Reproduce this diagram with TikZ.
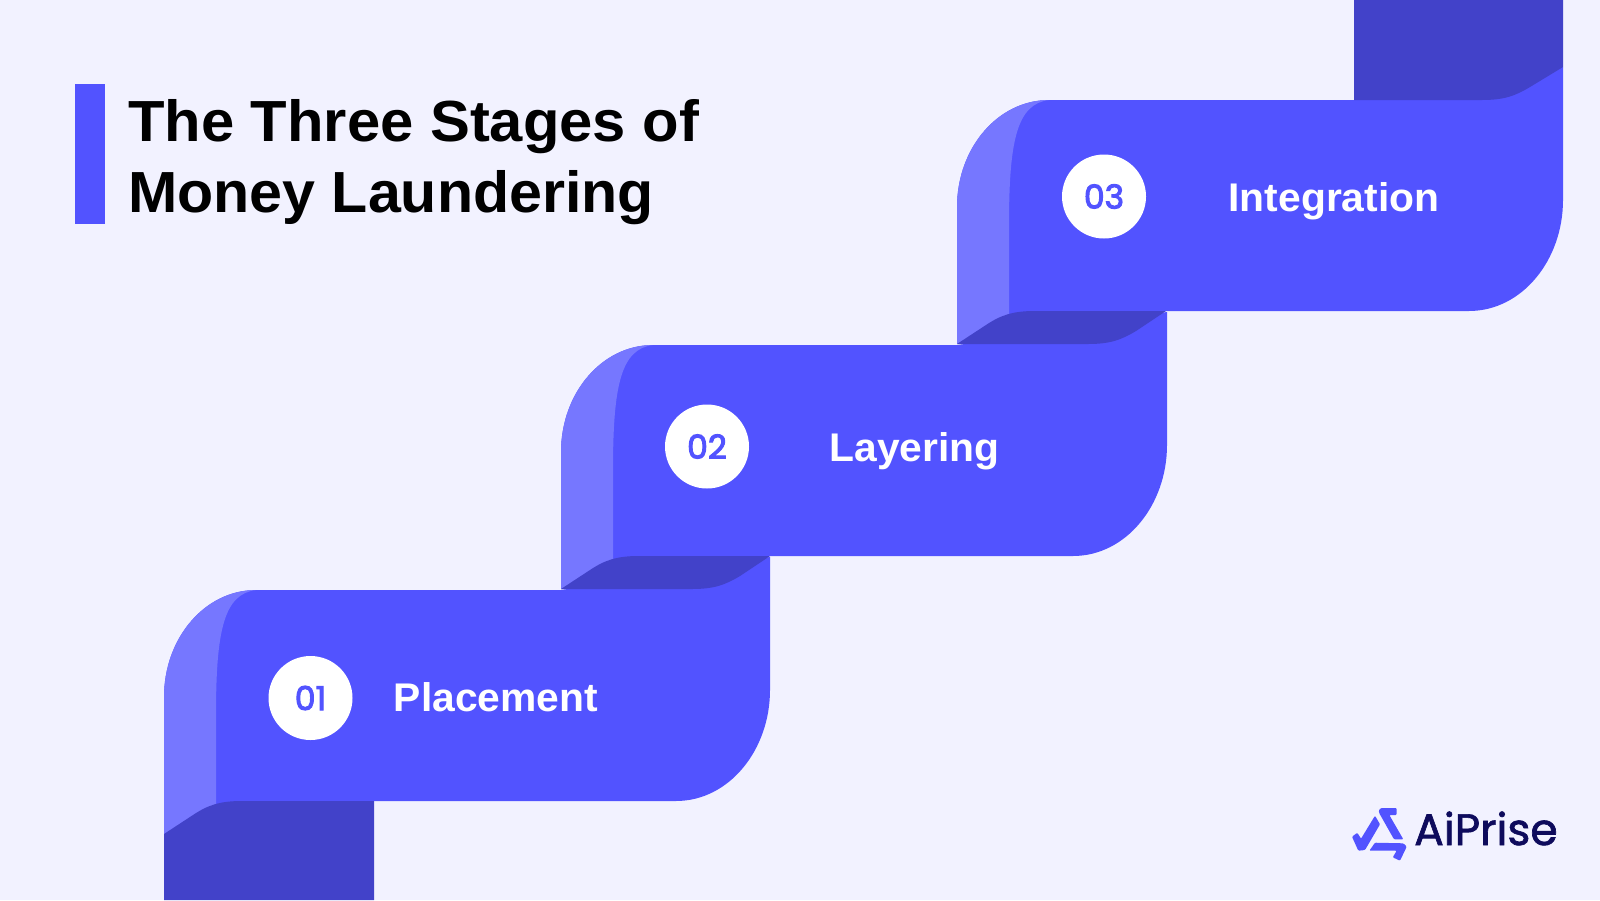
\documentclass[tikz,border=0pt]{standalone}
\usepackage{fontspec}
\setmainfont{Liberation Sans}
\newfontfamily\semi[FakeStretch=1.02]{Liberation Sans Bold}
\newfontfamily\semiwide[FakeStretch=1.03]{Liberation Sans Bold}
\newfontfamily\popsemi[FakeBold=3]{Poppins}
\newfontfamily\popmed[FakeBold=1.5]{Poppins}
\definecolor{bg}{HTML}{F2F2FF}
\definecolor{band}{HTML}{5253FF}
\definecolor{bandlight}{HTML}{7677FF}
\definecolor{banddark}{HTML}{4242C9}
\definecolor{navy}{HTML}{0E0B5C}
\tikzset{
  mainshape/.pic={
    \fill[band] (0,107) .. controls (0,48) and (41,0) .. (92,0) -- (397,0) -- (606,-33) -- (606,100)
      .. controls (606,160) and (565,211) .. (512,211) -- (90,211) -- (52,222) -- (0,211) -- cycle;
    \fill[bandlight] (0,244) -- (0,107) .. controls (0,48) and (41,0) .. (92,0)
      .. controls (60,4) and (52,40) .. (52,125) -- (52,244) -- cycle;
  },
  lowerfold/.pic={
    \fill[banddark] (0,244) -- (29,225) .. controls (44,215) and (56,211) .. (78,211) -- (209,211)
      -- (179,231) .. controls (164,240) and (153,244) .. (131,244) -- cycle;
  },
  numdisc/.style={circle,fill=white,minimum size=84pt,inner sep=0pt,text=band,font=\popsemi\fontsize{33}{33}\selectfont},
  steplabel/.style={anchor=base,text=white,inner sep=0pt,font=\semi\fontsize{40}{40}\selectfont},
  titleline/.style={anchor=base west,inner sep=0pt,text=black,font=\semi\fontsize{58}{58}\selectfont},
}
\begin{document}
\begin{tikzpicture}[x=1pt,y=-1pt]
\fill[bg] (0,0) rectangle (1600,900);
\useasboundingbox (0,0) rectangle (1600,900);
% accent bar
\fill[band] (75,84) rectangle (105,224);
\node[titleline] (title1) at (128,141.5) {\semiwide The Three Stages of};
\node[titleline] (title2) at (128,212) {Money Laundering};
% ribbon: top-right end first
\pic at (957,100) {mainshape};
\fill[banddark] (1354,0) -- (1563,0) -- (1563,67) -- (1530,87) .. controls (1515,96) and (1504,100) .. (1482,100) -- (1354,100) -- cycle;
\pic at (561,345) {mainshape};
\pic at (957,100) {lowerfold};
\pic at (164,590) {mainshape};
\pic at (561,345) {lowerfold};
\fill[banddark] (164,834) -- (193,815) .. controls (208,805) and (220,801) .. (242,801) -- (374,801) -- (374,900) -- (164,900) -- cycle;
% numbers and labels
\node[numdisc] (n1) at (310.5,698) {01};
\node[numdisc] (n2) at (707,446.5) {02};
\node[numdisc] (n3) at (1104,196.5) {03};
\node[steplabel] (l1) at (496,711) {Placement};
\node[steplabel] (l2) at (914.5,461) {Layering};
\node[steplabel] (l3) at (1334,211) {Integration};
% logo
\fill[band,rounded corners=1pt] (1352,836.7) -- (1357.3,832.7) -- (1361,838.7) -- (1375,815.7) -- (1380,824.3) -- (1365,850) -- (1358.3,850.7) -- cycle;
\fill[band,rounded corners=1pt] (1378.7,810.7) -- (1380.7,808) -- (1396.7,808) -- (1396.7,815) -- (1389.3,815) -- (1403.3,839.3) -- (1394,839.3) -- (1379.3,813.3) -- cycle;
\fill[band,rounded corners=1pt] (1369.3,850.7) -- (1375,842.7) -- (1403.3,843.3) -- (1406.7,846.7) -- (1400,860.7) -- (1392.7,857.3) -- (1396.7,850.7) -- cycle;
\node[anchor=base west,inner sep=0pt,text=navy,font=\popmed\fontsize{44}{44}\selectfont] (brand) at (1414,845) {AiPrise};
\end{tikzpicture}
\end{document}
